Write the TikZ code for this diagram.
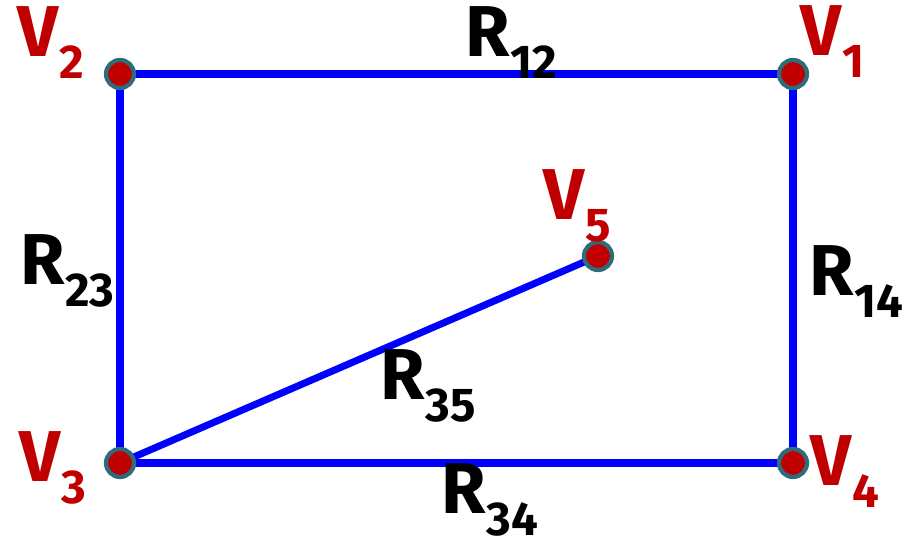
\documentclass[tikz,border=0pt]{standalone}
\usepackage{fontspec}
\setmainfont{Fira Sans}
\usepackage{xcolor}
\usetikzlibrary{positioning}
\definecolor{wire}{HTML}{0000FF}
\definecolor{vred}{HTML}{C00000}
\definecolor{rim}{HTML}{2E6C7C}
\newcommand{\withsub}[2]{#1\kern0.5pt\raisebox{-0.44cm}{\fontsize{27}{27}\selectfont #2}}

\begin{document}
\begin{tikzpicture}[x=0.02cm, y=-0.02cm,
    vx/.style={circle, fill=vred, draw=rim, line width=2.4pt, minimum size=0.56cm, inner sep=0pt},
    rw/.style={draw=wire, line width=4pt},
    vlbl/.style={anchor=base west, inner sep=0pt, text=vred, font=\fontsize{41}{41}\selectfont\bfseries},
    rlbl/.style={anchor=base west, inner sep=0pt, text=black, font=\fontsize{41}{41}\selectfont\bfseries}
]
    \useasboundingbox (0,0) rectangle (904,546);
    % Nodes
    \coordinate (p1) at (793,74);
    \coordinate (p2) at (120,74);
    \coordinate (p3) at (120,463);
    \coordinate (p4) at (793,463);
    \coordinate (p5) at (598,256);

    % Resistors
    \draw[rw] (p2) -- (p1);
    \draw[rw] (p1) -- (p4);
    \draw[rw] (p3) -- (p4);
    \draw[rw] (p2) -- (p3);
    \draw[rw] (p3) -- (p5);

    \node[vx] (v1) at (p1) {};
    \node[vx] (v2) at (p2) {};
    \node[vx] (v3) at (p3) {};
    \node[vx] (v4) at (p4) {};
    \node[vx] (v5) at (p5) {};

    % Labels
    \node[vlbl] (lv1) at (800,56) {\withsub{V}{1}};
    \node[vlbl] (lv2) at (17,57) {\withsub{V}{2}};
    \node[vlbl] (lv3) at (19,482) {\withsub{V}{3}};
    \node[vlbl] (lv4) at (810,486) {\withsub{V}{4}};
    \node[vlbl] (lv5) at (543,220) {\withsub{V}{5}};
    \node[rlbl] (r12) at (465,57) {\withsub{R}{12}};
    \node[rlbl] (r23) at (20,285) {\withsub{R}{23}};
    \node[rlbl] (r14) at (809,296) {\withsub{R}{14}};
    \node[rlbl] (r35) at (380,400) {\withsub{R}{35}};
    \node[rlbl] (r34) at (441,514) {\withsub{R}{34}};
\end{tikzpicture}
\end{document}
